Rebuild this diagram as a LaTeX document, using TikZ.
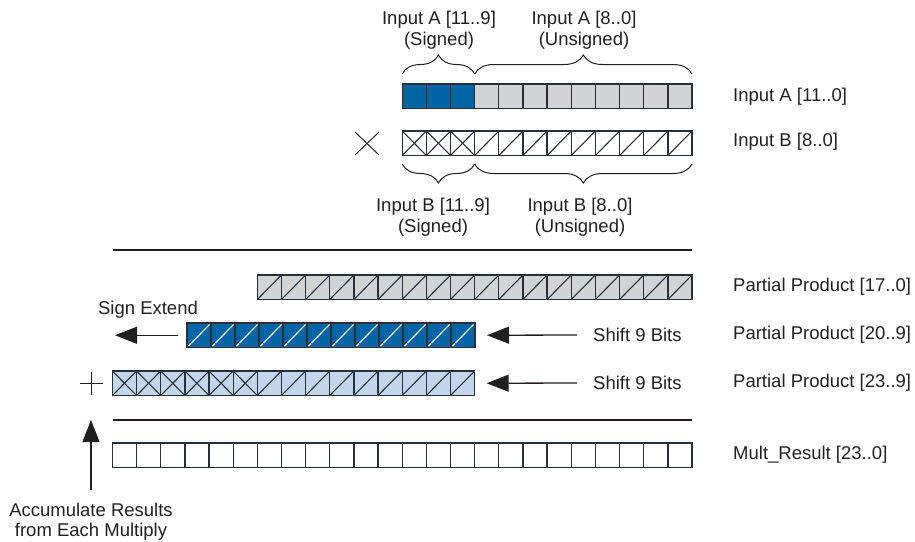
\documentclass[tikz,border=0pt]{standalone}
\usepackage{fontspec}
\setmainfont{Liberation Sans}
\usetikzlibrary{arrows.meta,decorations.pathreplacing}
\definecolor{signblue}{RGB}{0,101,164}
\definecolor{cellgray}{RGB}{209,211,212}
\definecolor{paleblue}{RGB}{195,213,235}
\definecolor{edgecol}{RGB}{38,48,58}
\definecolor{inkcol}{RGB}{35,31,32}

\begin{document}
\begin{tikzpicture}[x=1pt,y=-1pt,
  every node/.style={font=\fontsize{18.5}{21}\selectfont, inner sep=0pt, text=inkcol},
  rowbox/.style={draw=edgecol, line width=1.4pt, minimum height=24.5pt, anchor=north west, outer sep=0pt},
  cellline/.style={draw=edgecol, line width=1.3pt},
  diag/.style={draw=edgecol, line width=1.1pt},
  whitediag/.style={draw=white, line width=1.1pt},
  bracestyle/.style={draw=inkcol, line width=1pt, decorate, decoration={brace, amplitude=19pt, aspect=0.5}},
  bigarrow/.style={draw=inkcol, line width=1.3pt, -{Triangle[length=22pt,width=17pt]}},
  sepline/.style={draw=inkcol, line width=1.3pt},
  rightlabel/.style={anchor=west}]
\useasboundingbox (0,0) rectangle (915,541);
\node[rowbox, fill=cellgray, minimum width=289.8pt] (ina) at (402.2,84) {};
\fill[signblue] (402.2,84) rectangle ++(72.45,24.5);
\foreach \i in {1,...,11} \draw[cellline] (402.2+\i*24.15,84) -- ++(0,24.5);
\draw[edgecol, line width=1.4pt] (402.2,84) rectangle ++(289.8,24.5);
\node[rowbox, fill=white, minimum width=289.8pt] (inb) at (402.2,131) {};
\foreach \i in {1,...,11} \draw[cellline] (402.2+\i*24.15,131) -- ++(0,24.5);
\foreach \i in {0,...,11} \draw[diag] (402.2+\i*24.15,155.5) -- ++(24.15,-24.5);
\foreach \i in {0,...,2} \draw[diag] (402.2+\i*24.15,131) -- ++(24.15,24.5);
\draw[bracestyle] (402.2,74) -- (474.65,74);
\draw[bracestyle] (474.65,74) -- (692,74);
\draw[bracestyle, decoration={mirror}] (402.2,164) -- (474.65,164);
\draw[bracestyle, decoration={mirror}] (474.65,164) -- (692,164);
\node[align=center] (ahi) at (439,30) {Input A [11..9]\\(Signed)};
\node[align=center] (alo) at (584,30) {Input A [8..0]\\(Unsigned)};
\node[align=center] (bhi) at (433,217) {Input B [11..9]\\(Signed)};
\node[align=center] (blo) at (580,217) {Input B [8..0]\\(Unsigned)};
\draw[inkcol, line width=1pt] (355,132) -- (379,155) (379,132) -- (355,155);
\node[rightlabel] (lina) at (733,97) {Input A [11..0]};
\node[rightlabel] (linb) at (733,142) {Input B [8..0]};
\draw[sepline] (113,250) -- (692,250);
\node[rowbox, fill=cellgray, minimum width=434.7pt] (pp17) at (257.3,275) {};
\foreach \i in {1,...,17} \draw[cellline] (257.3+\i*24.15,275) -- ++(0,24.5);
\foreach \i in {0,...,17} \draw[diag] (257.3+\i*24.15,299.5) -- ++(24.15,-24.5);
\node[rowbox, fill=signblue, minimum width=288pt] (pp20) at (187,323) {};
\foreach \i in {1,...,11} \draw[cellline] (187+\i*24,323) -- ++(0,24.5);
\foreach \i in {0,...,11} \draw[whitediag] (187+\i*24+1.5,346) -- ++(21,-21.5);
\node[rowbox, fill=paleblue, minimum width=362.25pt] (pp23) at (112.4,371) {};
\foreach \i in {1,...,14} \draw[cellline] (112.4+\i*24.15,371) -- ++(0,24.5);
\foreach \i in {0,...,14} \draw[diag] (112.4+\i*24.15,395.5) -- ++(24.15,-24.5);
\foreach \i in {0,...,5} \draw[diag] (112.4+\i*24.15,371) -- ++(24.15,24.5);
\draw[inkcol, line width=1pt] (80,383) -- (103,383) (91.5,372) -- (91.5,395);
\draw[sepline] (113,420) -- (692,420);
\node[rowbox, fill=white, minimum width=579.6pt] (mres) at (112.4,443) {};
\foreach \i in {1,...,23} \draw[cellline] (112.4+\i*24.15,443) -- ++(0,24.5);
\node (sgn) at (148,310) {Sign Extend};
\coordinate (sgntip) at (115,335.25);
\draw[bigarrow] ([xshift=-9pt]pp20.west) -- (sgntip);
\node[anchor=west] (shfa) at (593,335) {Shift 9 Bits};
\node[anchor=west] (shfb) at (593,383) {Shift 9 Bits};
\draw[bigarrow] ([xshift=-16pt]shfa.west) -- ([xshift=12pt]pp20.east);
\draw[bigarrow] ([xshift=-16pt]shfb.west) -- ([xshift=12pt]pp23.east);
\node[rightlabel] (lp17) at (733,287) {Partial Product [17..0]};
\node[rightlabel] (lp20) at (733,335) {Partial Product [20..9]};
\node[rightlabel] (lp23) at (733,383) {Partial Product [23..9]};
\node[rightlabel] (lres) at (733,455) {Mult\_Result [23..0]};
\node[align=center, font=\fontsize{18.5}{20}\selectfont] (acc) at (91,522) {Accumulate Results\\from Each Multiply};
\coordinate (acctip) at (91,420);
\draw[bigarrow] ([yshift=13pt]acc.north) -- (acctip);
\end{tikzpicture}
\end{document}
